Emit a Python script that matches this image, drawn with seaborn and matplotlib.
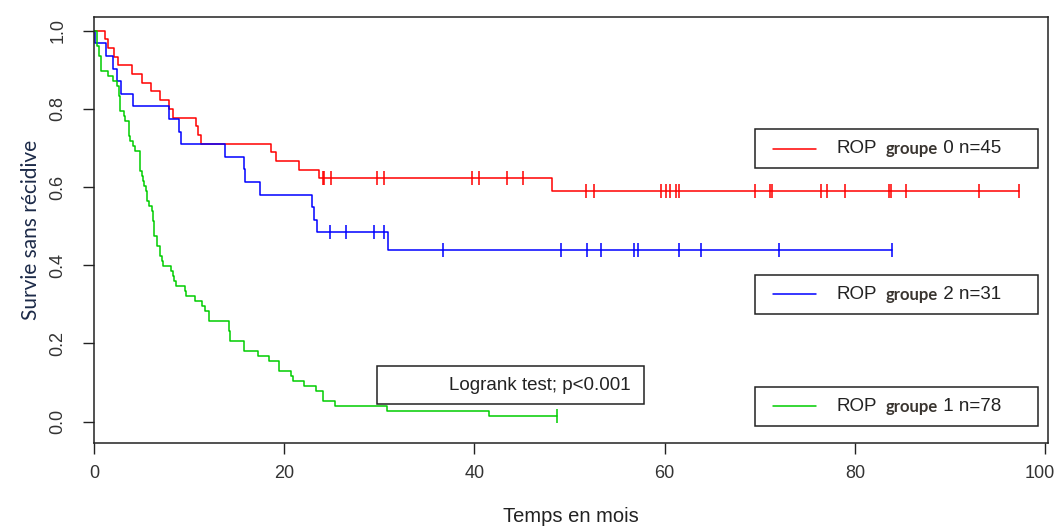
import numpy as np
import pandas as pd
import matplotlib
matplotlib.use("Agg")
import matplotlib.pyplot as plt
import matplotlib.transforms as mtransforms
import seaborn as sns
from matplotlib.patches import Rectangle

# Values (time in months)
red_death_times = [1.16, 1.51, 2.10, 2.56, 3.96, 5.08, 5.99, 6.94, 7.89, 8.34,
                   10.73, 10.97, 11.25, 18.6, 19.1, 21.6, 23.66, 48.1]
red_censor_times = [24.05, 24.2, 24.9, 29.8, 30.5, 39.7, 40.5, 43.4, 45.1, 51.7,
                    52.6, 59.6, 60.1, 60.6, 61.2, 61.5, 69.5, 71.1, 71.25, 76.4,
                    77.1, 79.0, 83.6, 83.8, 85.4, 93.0, 97.2]

blue_death_times = [0.1, 1.3, 2.0, 2.4, 2.85, 4.15, 7.89, 8.97, 9.11, 13.78,
                    15.77, 15.9, 17.5, 22.9, 23.1, 23.4, 30.95]
blue_censor_times = [24.8, 26.5, 29.4, 30.5, 36.7, 49.1, 51.8, 53.3, 56.8, 57.2,
                     61.5, 63.8, 72.0, 83.9]

green_death_times = [0.3, 0.55, 0.7, 1.44, 1.97, 2.42, 2.6, 2.77, 3.12, 3.3,
                     3.64, 3.82, 4.07, 4.35, 4.87, 5.0, 5.19, 5.3, 5.47, 5.61,
                     5.82, 6.07, 6.24, 6.34, 6.59, 6.94, 7.12, 7.22, 8.06, 8.27,
                     8.41, 8.62, 9.57, 9.67, 10.62, 11.39, 11.67, 12.13, 14.2, 14.3,
                     15.8, 17.2, 18.4, 19.5, 20.7, 20.9, 22.1, 23.3, 24.1, 25.3,
                     30.8, 41.5]
green_death_counts = [3, 2, 3, 1, 1, 1, 2, 3, 1, 1,
                      3, 1, 1, 1, 4, 1, 1, 1, 1, 2,
                      1, 1, 2, 3, 2, 2, 1, 1, 1, 1,
                      1, 1, 1, 1, 1, 1, 1, 2, 2, 2,
                      2, 1, 1, 2, 1, 1, 1, 1, 2, 1,
                      1, 1]
green_censor_times = [48.7]

legend_labels = ["0 n=45", "2 n=31", "1 n=78"]
group_colors = ["#ff0000", "#0000ff", "#00cd00"]
x_ticks = [0, 20, 40, 60, 80, 100]
y_ticks = [0.0, 0.2, 0.4, 0.6, 0.8, 1.0]


def km_curve(death_times, censor_times, death_counts=None):
    # plain Kaplan-Meier estimate -> step points + censor marks
    if death_counts is None:
        death_counts = [1] * len(death_times)
    deaths = pd.Series(death_counts, index=death_times).groupby(level=0).sum()
    censors = pd.Series(1, index=censor_times).groupby(level=0).sum()
    times = sorted(set(deaths.index) | set(censors.index))
    n_risk = int(deaths.sum() + censors.sum())
    surv = 1.0
    xs, ys = [0.0], [1.0]
    mx, my = [], []
    for t in times:
        d = deaths.get(t, 0)
        c = censors.get(t, 0)
        if d:
            surv *= 1 - d / n_risk
            xs.append(t)
            ys.append(surv)
        if c:
            mx.append(t)
            my.append(surv)
        n_risk -= d + c
    if xs[-1] < times[-1]:
        xs.append(times[-1])
        ys.append(surv)
    return pd.DataFrame({"t": xs, "s": ys}), pd.DataFrame({"t": mx, "s": my})


sns.set_theme(style="ticks")
plt.rcParams["font.family"] = ["Liberation Sans", "DejaVu Sans"]

fig, ax = plt.subplots(figsize=(10.58, 5.26), dpi=100)
fig.subplots_adjust(left=94 / 1058, right=1048 / 1058, bottom=1 - 443 / 526, top=1 - 17 / 526)

groups = [
    (red_death_times, red_censor_times, None),
    (blue_death_times, blue_censor_times, None),
    (green_death_times, green_censor_times, green_death_counts),
]
for (dt, ct, dc), col in zip(groups, group_colors):
    steps, marks = km_curve(dt, ct, dc)
    sns.lineplot(data=steps, x="t", y="s", drawstyle="steps-post", color=col,
                 lw=1.1, estimator=None, sort=False, ax=ax)
    ax.plot(marks["t"], marks["s"], ls="none", marker="|", ms=10, mew=1.1, color=col)

ax.set_xlim(0, 100.3)
ax.set_ylim(-0.055, 1.035)
ax.set_xticks(x_ticks)
ax.set_yticks(y_ticks)
ax.set_xticklabels([str(v) for v in x_ticks], fontsize=13, color="#333333")
ax.set_yticklabels([f"{v:.1f}" for v in y_ticks], fontsize=13,
                   color="#333333", rotation=90, va="center")
ax.tick_params(axis="both", direction="out", length=8, width=1, color="#222222")
ax.tick_params(axis="x", pad=8)
ax.tick_params(axis="y", pad=12)
for sp in ax.spines.values():
    sp.set_visible(True)
    sp.set_color("#222222")
    sp.set_linewidth(1.1)

# keep "100" inside the canvas (reference uses a narrow font)
last = ax.get_xticklabels()[-1]
last.set_transform(last.get_transform() + mtransforms.ScaledTranslation(-5 / 100, 0, fig.dpi_scale_trans))

ax.set_xlabel("Temps en mois", fontsize=14.5, color="#222222", labelpad=18)
ax.set_ylabel("Survie sans récidive", family=["Lato", "DejaVu Sans"], fontsize=15,
              color="#1c2a48", labelpad=6)

# legend boxes (axes fraction)
box_x0, box_x1 = 0.693, 0.9895
box_tops = [0.737, 0.3944, 0.1315]
box_h = 0.0915
for lab, col, top in zip(legend_labels, group_colors, box_tops):
    ax.add_patch(Rectangle((box_x0, top - box_h), box_x1 - box_x0, box_h,
                           transform=ax.transAxes, fill=False, ec="#222222", lw=1.1))
    ym = top - box_h / 2
    ax.plot([0.7117, 0.7568], [ym, ym], transform=ax.transAxes, color=col, lw=1.1)
    t1 = ax.text(0.7788, ym, "ROP", transform=ax.transAxes, va="center",
                 fontsize=13.5, color="#222222")
    t2 = ax.annotate("groupe", xy=(1, 0), xycoords=t1, xytext=(6, 0),
                     textcoords="offset points", va="bottom", fontsize=12,
                     family=["Lato", "DejaVu Sans"], weight="bold", color="#3a3530")
    ax.annotate(" " + lab, xy=(1, 0), xycoords=t2, xytext=(0, 0),
                textcoords="offset points", va="bottom", fontsize=13.5, color="#222222")

# logrank box
ax.add_patch(Rectangle((0.2966, 0.0915), 0.5765 - 0.2966, 0.1808 - 0.0915,
                       transform=ax.transAxes, fill=False, ec="#222222", lw=1.1))
ax.text(0.5629, 0.136, "Logrank test; p<0.001", transform=ax.transAxes,
        ha="right", va="center", fontsize=13.5, color="#222222")

fig.savefig("out.png", dpi=100)
